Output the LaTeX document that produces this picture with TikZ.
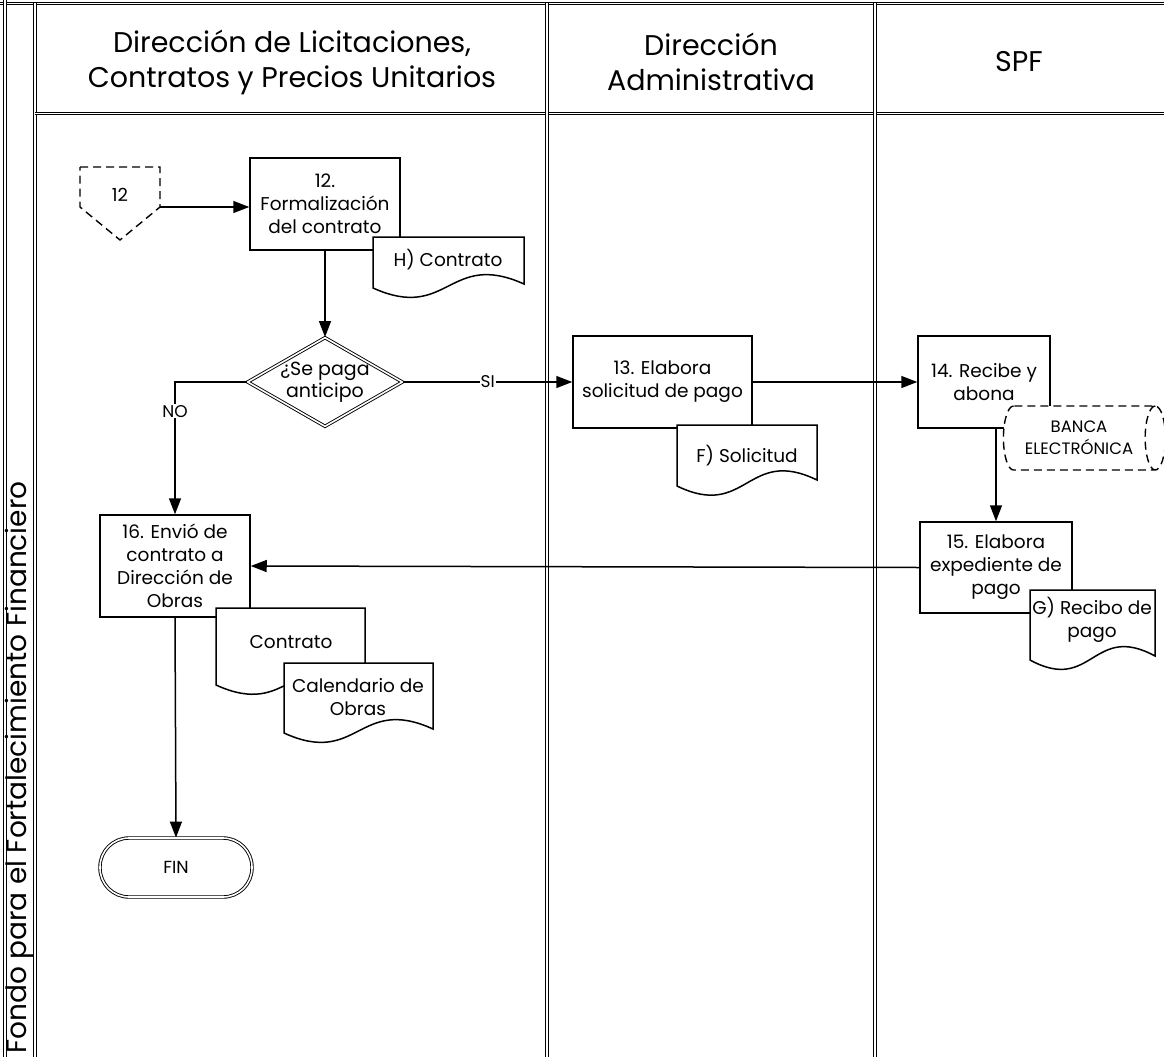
\documentclass[tikz,border=0pt]{standalone}
\usepackage{fontspec}
\setmainfont{Poppins}
\usetikzlibrary{arrows.meta,shapes.geometric,positioning}

\tikzset{
  lane/.style={double, line width=1.1pt, double distance=1.6pt},
  proc/.style={draw, line width=1.5pt, fill=white, align=center, inner sep=0pt,
    font=\fontsize{18.5}{23}\selectfont},
  docu/.style={draw, line width=1.5pt, fill=white},
  doctext/.style={align=center, inner sep=0pt, font=\fontsize{18.5}{23}\selectfont},
  arr/.style={line width=1.5pt, -{Triangle[length=16pt,width=12pt]}},
  dec/.style={diamond, draw, double, line width=0.9pt, double distance=1.6pt,
    fill=white, minimum width=155pt, minimum height=89pt, inner sep=0pt},
  term/.style={draw, double, line width=0.9pt, double distance=1.6pt, fill=white,
    rounded corners=29pt, minimum width=152pt, minimum height=59pt,
    font=\fontsize{17.5}{20}\selectfont},
  cyl/.style={cylinder, draw, dashed, dash pattern=on 8pt off 5pt, line width=1.4pt,
    fill=white, minimum height=162pt, minimum width=64pt, aspect=0.6,
    align=center, inner sep=0pt, font=\fontsize{16.5}{22}\selectfont},
  head/.style={align=center, font=\fontsize{28.5}{35}\selectfont},
  lbl/.style={fill=white, inner sep=1pt, font=\fontsize{17}{19}\selectfont}
}

\newcommand{\docshape}[5]{%
  \draw[docu] (#1,#2) -- (#3,#2) -- (#3,#5)
    .. controls ({(#1+#3)/2},{#5-34}) and ({(#1+#3)/2},{#4+34}) .. (#1,#4) -- cycle;}

\begin{document}
\begin{tikzpicture}[x=1pt,y=-1pt] %[scale=1]
	\useasboundingbox (0,0) rectangle (1164,1057);
	% carriles
	\draw[lane] (0,3.5) -- (1164,3.5);
	\draw[lane] (5,0) -- (5,1057);
	\draw[lane] (35,3.5) -- (35,1057);
	\draw[lane] (35,113.5) -- (1164,113.5);
	\draw[lane] (547,3.5) -- (547,1057);
	\draw[lane] (875,3.5) -- (875,1057);
	\node[head] (hlic) at (292,62) {Dirección de Licitaciones,\\Contratos y Precios Unitarios};
	\node[head] (hadm) at (711,62) {Dirección\\Administrativa};
	\node[head] (hspf) at (1019,62) {SPF};
	\node[rotate=90, anchor=west, inner sep=0pt, font=\fontsize{28}{30}\selectfont] (fondo) at (19.5,1054) {Fondo para el Fortalecimiento Financiero};

	\draw[line width=1.4pt, dash pattern=on 8pt off 5pt] (80,167) -- (160,167) -- (160,207) -- (120,240) -- (80,207) -- cycle;
	\node[font=\fontsize{18}{20}\selectfont] (con12) at (120,195) {12};
	\coordinate (con12e) at (160,207);

	\node[proc, minimum width=150pt, minimum height=92pt] (b12) at (325,204) {12.\\Formalización\\del contrato};
	\node[dec] (dec) at (325,382) {};
	\node[align=center, inner sep=0pt, font=\fontsize{19}{22}\selectfont] (dect) at (dec) {¿Se paga\\anticipo};
	\node[proc, minimum width=179pt, minimum height=92pt] (b13) at (662.5,382) {13. Elabora\\solicitud de pago};
	\node[proc, minimum width=132pt, minimum height=92pt] (b14) at (984,382) {14. Recibe y\\abona};
	\node[proc, minimum width=152pt, minimum height=91pt] (b15) at (996,567.5) {15. Elabora\\expediente de\\pago};
	\node[proc, minimum width=150pt, minimum height=102pt] (b16) at (175,566) {16. Envió de\\contrato a\\Dirección de\\Obras};
	\node[term] (fin) at (176,867.5) {FIN};

	\draw[arr] (con12e) -- (con12e -| b12.west);
	\draw[arr] (b12.south) -- (dec.north);
	\draw[arr] (dec.east) -- (b13.west) node[lbl, midway] {SI};
	\draw[arr] (dec.west) -| (b16.north) node[lbl, pos=0.61] {NO};
	\draw[arr] (b13.east) -- (b14.west);
	\draw[arr] (b14.south -| b15.north) -- (b15.north);
	\draw[arr] (b15.west) -- (b16.east);
	\draw[arr] (b16.south) -- (fin.north);

	\docshape{373}{237}{524}{288}{284}
	\node[doctext] (hcon) at (448,260) {H) Contrato};
	\docshape{677}{425}{817}{486}{480}
	\node[doctext] (fsol) at (747,456) {F) Solicitud};
	\node[cyl] (banca) at (1079,438) {BANCA\\ELECTRÓNICA};
	\docshape{1030}{590}{1155}{660}{656}
	\node[doctext] (grec) at (1092,620) {G) Recibo de\\pago};
	\docshape{216}{608}{365}{685}{680}
	\node[doctext] (cont) at (291,642) {Contrato};
	\docshape{284}{663}{433}{733}{729}
	\node[doctext] (cal) at (358,697) {Calendario de\\Obras};
\end{tikzpicture}
\end{document}
